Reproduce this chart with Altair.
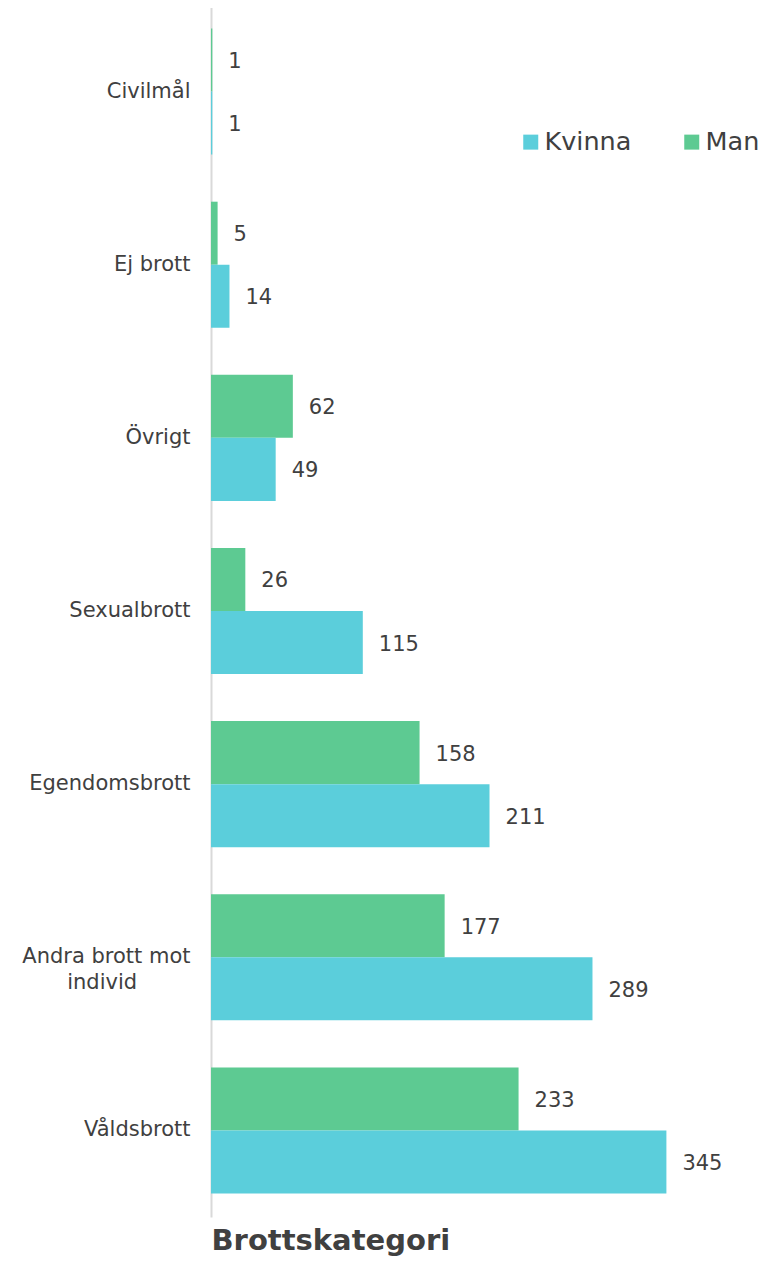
import altair as alt
import pandas as pd

categories = ["Civilmål", "Ej brott", "Övrigt", "Sexualbrott", "Egendomsbrott",
              "Andra brott mot individ", "Våldsbrott"]
man = [1, 5, 62, 26, 158, 177, 233]
kvinna = [1, 14, 49, 115, 211, 289, 345]
genders = ["Kvinna", "Man"]
colors = ["#5BCEDB", "#5DCA92"]

rows = []
for c, m, k in zip(categories, man, kvinna):
    rows.append({"Kategori": c, "Kön": "Man", "Antal": m})
    rows.append({"Kategori": c, "Kön": "Kvinna", "Antal": k})
df = pd.DataFrame(rows)

FONT = "DejaVu Sans"
TXT = "#404040"

pad2 = "\u00a0" * 8 + "\u200b"
y_enc = alt.Y(
    "Kategori:N",
    sort=categories,
    scale=alt.Scale(paddingInner=0.272, paddingOuter=0.136, range=[-3, 1209]),
    axis=alt.Axis(
        title=None,
        ticks=False,
        domainColor="#d9d9d9",
        domainWidth=2,
        labelFont=FONT,
        labelFontSize=21,
        labelColor=TXT,
        labelPadding=21,
        labelLineHeight=26,
        labelLimit=300,
        labelExpr="datum.value == 'Andra brott mot individ' ? ['Andra brott mot', 'individ" + pad2 + "'] : datum.value",
    ),
)

x_enc = alt.X(
    "Antal:Q",
    scale=alt.Scale(domain=[0, 400], nice=False),
    axis=alt.Axis(
        title="Brottskategori",
        domain=False, ticks=False, labels=False, grid=False,
        titleFont=FONT, titleFontSize=29, titleFontWeight="bold", titleColor=TXT,
        titleX=0, titleY=32, titleAlign="left", titleBaseline="alphabetic",
        titleAnchor="start",
    ),
)

yoff = alt.YOffset("Kön:N", sort=["Man", "Kvinna"])

bars = alt.Chart(df).mark_bar().encode(
    y=y_enc,
    x=x_enc,
    yOffset=yoff,
    color=alt.Color(
        "Kön:N",
        scale=alt.Scale(domain=genders, range=colors),
        legend=alt.Legend(
            title=None, orient="none", legendX=307, legendY=121,
            direction="horizontal", symbolType="square", symbolSize=225,
            symbolStrokeWidth=0, symbolOpacity=1,
            labelFont=FONT, labelFontSize=25.5, labelColor=TXT,
            labelOffset=1, columnPadding=47, padding=0,
        ),
    ),
)

labels = alt.Chart(df).mark_text(
    align="left", baseline="middle", dx=16, dy=2, font=FONT, fontSize=21, color=TXT
).encode(
    y=alt.Y("Kategori:N", sort=categories),
    x=alt.X("Antal:Q"),
    yOffset=yoff,
    text="Antal:Q",
)

chart = (bars + labels).properties(
    width=528, height=1209,
    autosize=alt.AutoSizeParams(type="none"),
    padding={"left": 203, "top": 0, "right": 20, "bottom": 39},
).configure_view(stroke=None)

chart.save("out.html", embed_options={"renderer": "svg", "actions": False})
